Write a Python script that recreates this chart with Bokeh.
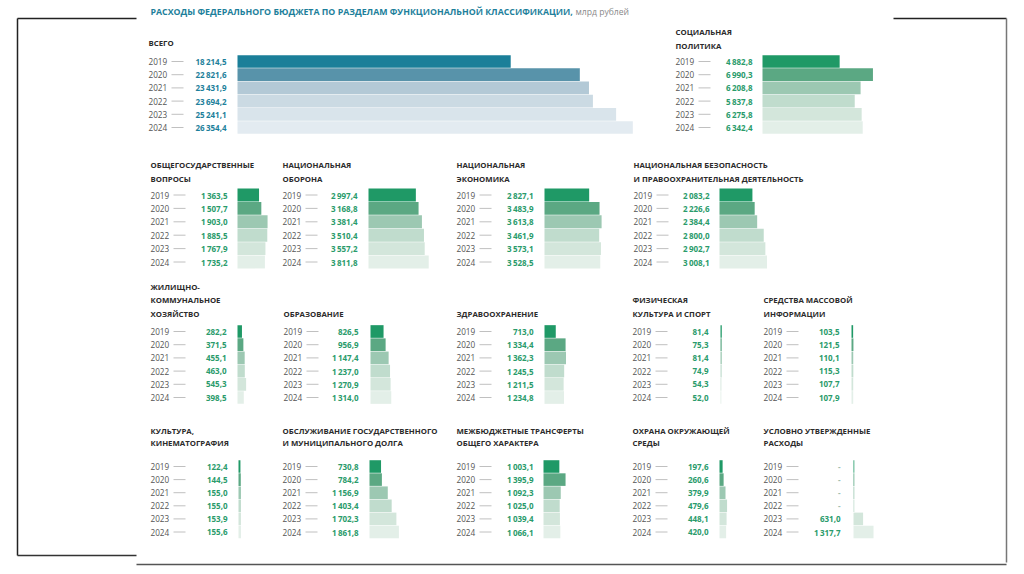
from bokeh.plotting import figure
from bokeh.models import Range1d, ColumnDataSource
from bokeh.core.properties import value
from bokeh.embed import file_html
from bokeh.resources import INLINE

# ---------------- data ----------------
years = ["2019", "2020", "2021", "2022", "2023", "2024"]
total = [18214.5, 22821.6, 23431.9, 23694.2, 25241.1, 26354.4]
social = [4882.8, 6990.3, 6208.8, 5837.8, 6275.8, 6342.4]
general = [1363.5, 1507.7, 1903.0, 1885.5, 1767.9, 1735.2]
defense = [2997.4, 3168.8, 3381.4, 3510.4, 3557.2, 3811.8]
economy = [2827.1, 3483.9, 3613.8, 3461.9, 3573.1, 3528.5]
security = [2083.2, 2226.6, 2384.4, 2800.0, 2902.7, 3008.1]
housing = [282.2, 371.5, 455.1, 463.0, 545.3, 398.5]
education = [826.5, 956.9, 1147.4, 1237.0, 1270.9, 1314.0]
health = [713.0, 1334.4, 1362.3, 1245.5, 1211.5, 1234.8]
sport = [81.4, 75.3, 81.4, 74.9, 54.3, 52.0]
media = [103.5, 121.5, 110.1, 115.3, 107.7, 107.9]
culture = [122.4, 144.5, 155.0, 155.0, 153.9, 155.6]
debt = [730.8, 784.2, 1156.9, 1403.4, 1702.3, 1861.8]
transfers = [1003.1, 1395.9, 1092.3, 1025.0, 1039.4, 1066.1]
environment = [197.6, 260.6, 379.9, 479.6, 448.1, 420.0]
conditional = [None, None, None, None, 631.0, 1317.7]

title_main = "РАСХОДЫ ФЕДЕРАЛЬНОГО БЮДЖЕТА ПО РАЗДЕЛАМ ФУНКЦИОНАЛЬНОЙ КЛАССИФИКАЦИИ,"
title_unit = "млрд рублей"

# ---------------- styles ----------------
teal_pal = ["#1b7f99", "#5893aa", "#b3c9d6", "#cbdae3", "#d9e4eb", "#e3ebf1"]
green_pal = ["#1f9966", "#5ba883", "#9cc8b2", "#c0dccd", "#d3e6db", "#e3efe8"]
TEAL = "#1d7f9b"
GREEN = "#2a9b6b"
FONT = value("Open Sans")

# panel layout: (values, heading lines, heading ys, x_year, x_value_right, x_bar, y0, dy, px_per_unit, palette, value colour)
GS = 0.0158
panels = [
    (total, ["ВСЕГО"], [42], 148, 226, 237, 61, 13.2, 0.0150, teal_pal, TEAL),
    (social, ["СОЦИАЛЬНАЯ", "ПОЛИТИКА"], [31, 45], 675, 752, 762, 61, 13.2, GS, green_pal, GREEN),
    (general, ["ОБЩЕГОСУДАРСТВЕННЫЕ", "ВОПРОСЫ"], [164, 178], 150, 227, 237, 194.5, 13.4, GS, green_pal, GREEN),
    (defense, ["НАЦИОНАЛЬНАЯ", "ОБОРОНА"], [164, 178], 282, 357, 368, 194.5, 13.4, GS, green_pal, GREEN),
    (economy, ["НАЦИОНАЛЬНАЯ", "ЭКОНОМИКА"], [164, 178], 456, 533, 544, 194.5, 13.4, GS, green_pal, GREEN),
    (security, ["НАЦИОНАЛЬНАЯ БЕЗОПАСНОСТЬ", "И ПРАВООХРАНИТЕЛЬНАЯ ДЕЯТЕЛЬНОСТЬ"], [164, 178], 633, 709, 719, 194.5, 13.4, GS, green_pal, GREEN),
    (housing, ["ЖИЛИЩНО-", "КОММУНАЛЬНОЕ", "ХОЗЯЙСТВО"], [286, 299, 313], 150, 226, 237, 331, 13.2, GS, green_pal, GREEN),
    (education, ["ОБРАЗОВАНИЕ"], [313], 283, 358, 370, 331, 13.2, GS, green_pal, GREEN),
    (health, ["ЗДРАВООХРАНЕНИЕ"], [313], 456, 533, 544, 331, 13.2, GS, green_pal, GREEN),
    (sport, ["ФИЗИЧЕСКАЯ", "КУЛЬТУРА И СПОРТ"], [299, 313], 632, 708, 720, 331, 13.2, GS, green_pal, GREEN),
    (media, ["СРЕДСТВА МАССОВОЙ", "ИНФОРМАЦИИ"], [299, 313], 763, 839, 851, 331, 13.2, GS, green_pal, GREEN),
    (culture, ["КУЛЬТУРА,", "КИНЕМАТОГРАФИЯ"], [430, 442], 150, 227, 238, 466, 13.1, GS, green_pal, GREEN),
    (debt, ["ОБСЛУЖИВАНИЕ ГОСУДАРСТВЕННОГО", "И МУНИЦИПАЛЬНОГО ДОЛГА"], [430, 442], 282, 358, 369, 466, 13.1, GS, green_pal, GREEN),
    (transfers, ["МЕЖБЮДЖЕТНЫЕ ТРАНСФЕРТЫ", "ОБЩЕГО ХАРАКТЕРА"], [430, 442], 456, 533, 543, 466, 13.1, GS, green_pal, GREEN),
    (environment, ["ОХРАНА ОКРУЖАЮЩЕЙ", "СРЕДЫ"], [430, 442], 632, 708, 719, 466, 13.1, GS, green_pal, GREEN),
    (conditional, ["УСЛОВНО УТВЕРЖДЕННЫЕ", "РАСХОДЫ"], [430, 442], 763, 840, 853, 466, 13.1, 0.0152, green_pal, GREEN),
]


def fmt(v):
    if v is None:
        return "-"
    s = f"{v:,.1f}"
    return s.replace(",", "\u2009").replace(".", ",")


p = figure(width=1016, height=566, x_range=Range1d(0, 1016), y_range=Range1d(566, 0),
           output_backend="svg", toolbar_location=None, min_border=0)
p.axis.visible = False
p.grid.visible = False
p.outline_line_color = None
p.background_fill_color = "white"

# slide frame
p.segment(x0=[17, 17, 17, 893, 1006, 136], y0=[18, 18, 555, 18, 18, 564],
          x1=[17, 136, 136, 1006, 1006, 1006], y1=[555, 18, 555, 18, 562, 564],
          line_color=["#222222", "#222222", "#333333", "#222222", "#777777", "#555555"], line_width=1.5)

# title
p.text(x=[150], y=[11], text=[title_main], text_font=FONT, text_font_style="bold",
       text_font_size="8.8px", text_color=TEAL, text_baseline="middle", text_align="left")
p.text(x=[575], y=[11], text=[title_unit], text_font=FONT, text_font_size="8.6px",
       text_color="#8a8a8a", text_baseline="middle", text_align="left")

for vals, heads, hys, xy, xv, xb, y0, dy, k, pal, vcol in panels:
    ys = [y0 + i * dy for i in range(len(years))]
    nums = [0.0 if v is None else v for v in vals]
    src = ColumnDataSource(dict(
        y=ys, left=[xb] * len(ys),
        right=[xb + max(n * k, 0.8) for n in nums],
        color=pal, year=years, label=[fmt(v) for v in vals],
        xy=[xy] * len(ys), xv=[xv] * len(ys),
        d0=[xy + 23] * len(ys), d1=[xy + 35] * len(ys),
        vc=[vcol if v is not None else "#9fbfb0" for v in vals],
    ))
    p.hbar(y="y", left="left", right="right", height=dy * 0.96, fill_color="color",
           line_color=None, source=src)
    p.text(x="xy", y="y", text="year", text_font=FONT, text_font_size="8.2px",
           text_color="#555555", text_baseline="middle", text_align="left", source=src)
    p.segment(x0="d0", y0="y", x1="d1", y1="y", line_color="#b0b0b0", line_width=0.8, source=src)
    p.text(x="xv", y="y", text="label", text_font=FONT, text_font_style="bold",
           text_font_size="8px", text_color="vc", text_baseline="middle", text_align="right", source=src)
    p.text(x=[xy] * len(heads), y=hys, text=heads, text_font=FONT, text_font_style="bold",
           text_font_size="7.8px", text_color="#2b2b2b", text_baseline="middle", text_align="left")

open("out.html", "w").write(file_html(p, INLINE))
